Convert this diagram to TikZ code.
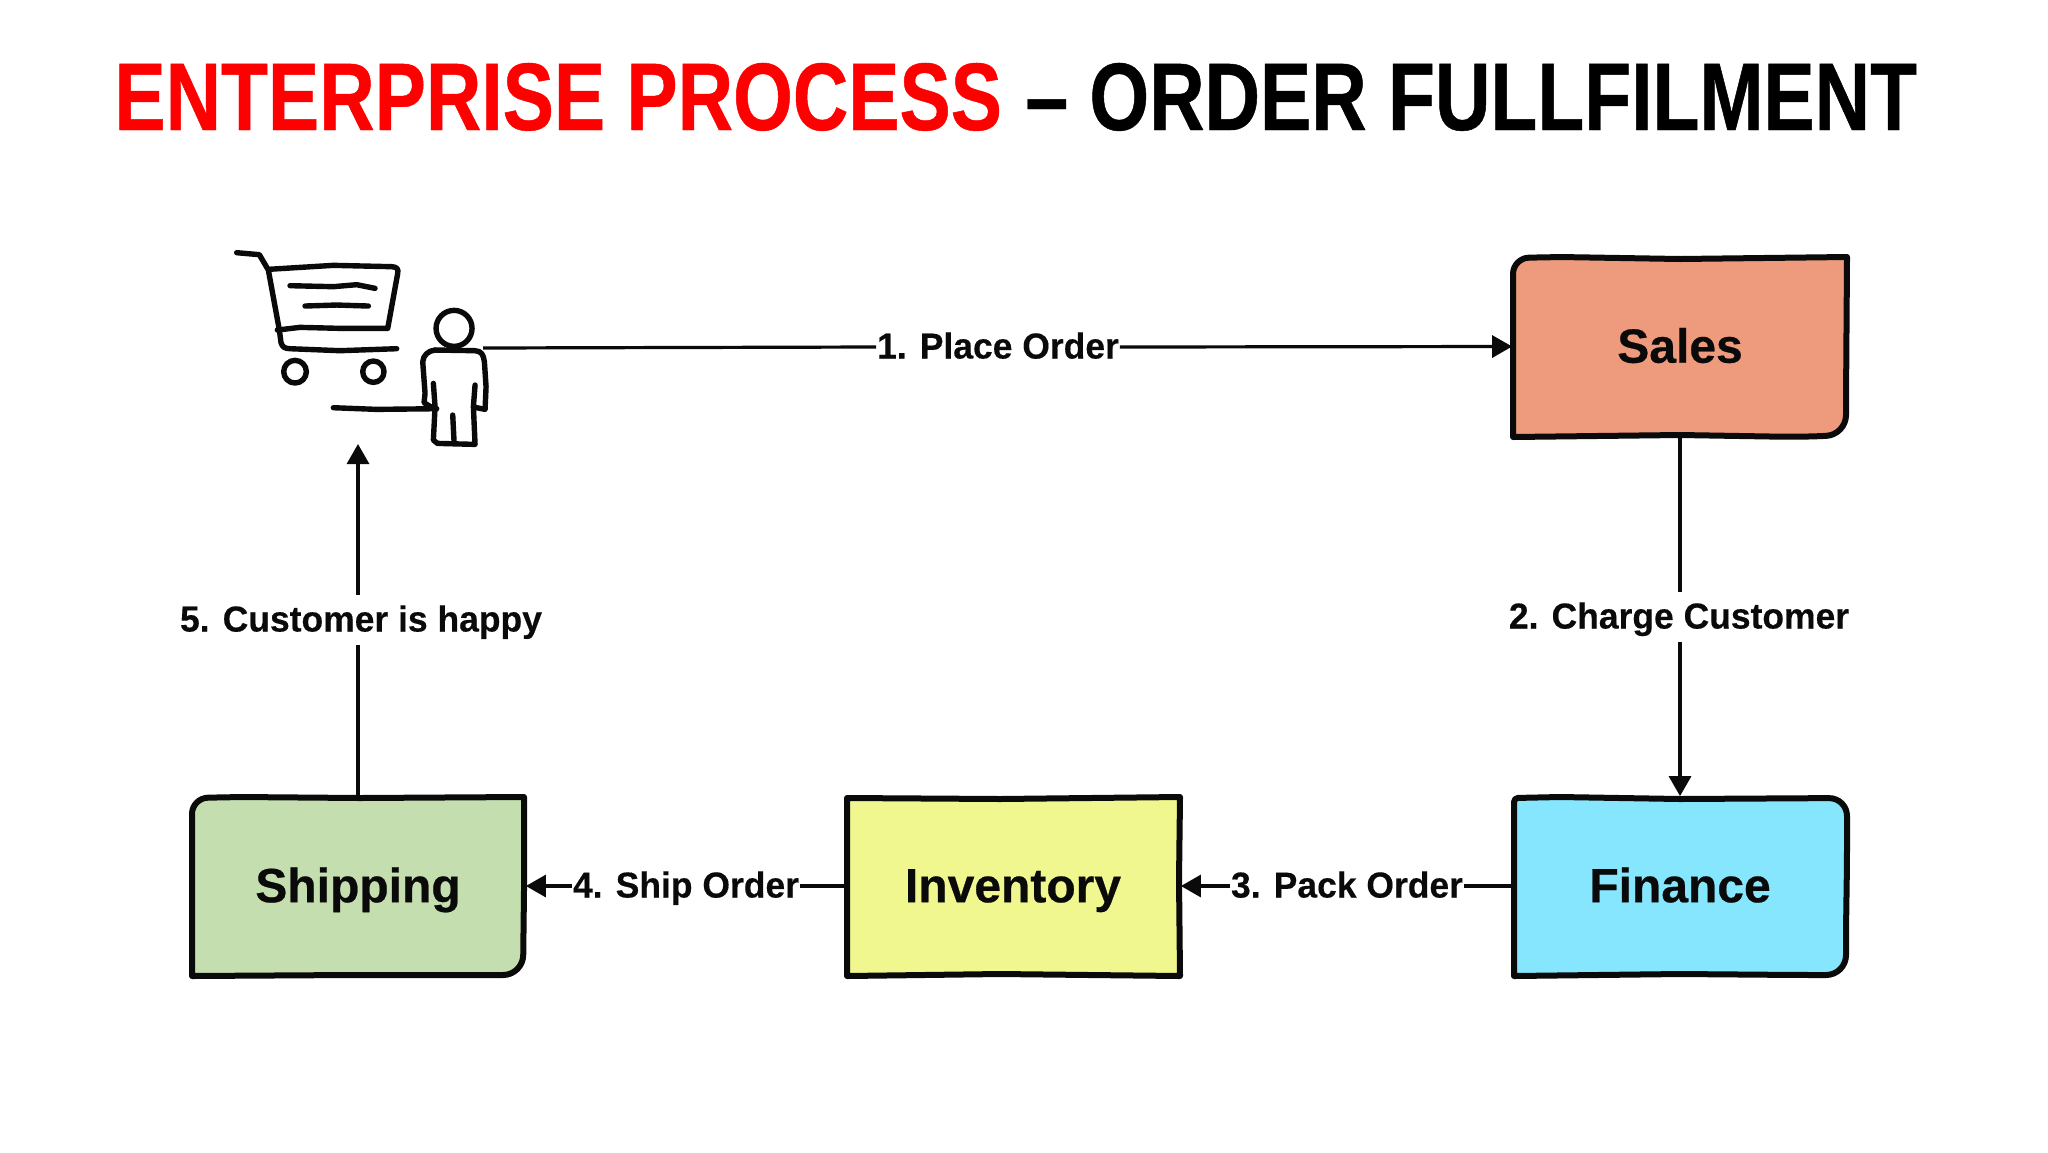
\documentclass[tikz,border=0pt]{standalone}
\usepackage{fontspec}
\setmainfont{Liberation Sans}
\newfontfamily\titlefont[FakeStretch=0.80,FakeBold=0.5]{Liberation Sans Bold}
\newfontfamily\boxfont[FakeBold=0.5]{Liberation Sans Bold}
\newfontfamily\labfont[FakeBold=0.35,FakeStretch=0.985]{Liberation Sans Bold}
\usetikzlibrary{arrows.meta}
\definecolor{salesc}{HTML}{EE9A7C}
\definecolor{shipc}{HTML}{C5DEB0}
\definecolor{invc}{HTML}{F1F78F}
\definecolor{finc}{HTML}{85E6FD}
\definecolor{ink}{HTML}{0A0A0A}
\tikzset{
  outline/.style={draw=ink,line width=3pt,line join=round,line cap=round},
  boxtext/.style={font=\boxfont\fontsize{24}{28}\selectfont,text=ink,text height=19pt,text depth=2.8pt,minimum width=167.5pt,minimum height=89.5pt,inner sep=0pt},
  conn/.style={draw=ink,line width=1.6pt},
  arrow/.style={conn,-{Triangle[length=10pt,width=11pt]}},
  lab/.style={font=\labfont\fontsize{18}{22}\selectfont,text=ink,text height=15pt,text depth=3.5pt,inner xsep=0.3pt},
  vlab/.style={lab,inner ysep=3pt},
  hlab/.style={lab,inner ysep=0pt},
  sketch/.style={draw=ink,line width=2.7pt,line cap=round,line join=round},
  ttl/.style={font=\titlefont\fontsize{48}{55}\selectfont,inner sep=0pt,anchor=base west}
}
\begin{document}
\begin{tikzpicture}[x=0.5pt,y=-0.5pt]
\useasboundingbox (0,0) rectangle (2048,1152);
\fill[white] (0,0) rectangle (2048,1152);
% title
\node[ttl,text=red] (t1) at (114,130) {ENTERPRISE PROCESS};
\node[ttl,text=black] (t2) at (1025,130) {– ORDER FULLFILMENT};
% box fills and outlines
\path[outline,fill=salesc] (1513,290) [rounded corners=8pt] -- (1513,258) -- (1560,257) [sharp corners] -- (1680,259) -- (1847,257) -- (1846,400) [rounded corners=10pt] -- (1846,435) -- (1800,437) [sharp corners] -- (1680,435) -- (1513,437) -- cycle;
\path[outline,fill=finc] (1514,830) [rounded corners=2pt] -- (1514,798) -- (1560,797) [sharp corners] -- (1680,799) [rounded corners=9pt] -- (1847,798) -- (1847,860) [sharp corners] -- (1846,930) [rounded corners=10pt] -- (1846,975) -- (1800,975) [sharp corners] -- (1680,974) -- (1514,976) -- cycle;
\path[outline,fill=invc] (847,798) -- (1000,799) -- (1180,797) -- (1179,880) -- (1180,976) -- (1000,974) -- (847,976) -- cycle;
\path[outline,fill=shipc] (192,840) [rounded corners=8pt] -- (192,798) -- (240,797) [sharp corners] -- (360,798) -- (524,797) -- (524,890) [rounded corners=10pt] -- (523,975) -- (470,975) [sharp corners] -- (350,975) -- (192,976) -- cycle;
% box texts
\node[boxtext] (sales) at (1680,346.5) {Sales};
\node[boxtext] (finance) at (1680,886) {Finance};
\node[boxtext] (inventory) at (1013,886) {Inventory};
\node[boxtext] (shipping) at (358,886) {Shipping};
% customer: cart
\begin{scope}[shift={(200,220)},x=0.1667pt,y=-0.1667pt]
\draw[sketch] (110,98) -- (178,104) -- (205,150) -- (238,330) -- (243,368) .. controls (248,383) and (255,385) .. (270,386) -- (420,392) -- (590,386);
\draw[sketch] (205,148) -- (400,136) -- (575,140) .. controls (590,141) and (596,146) .. (593,160) -- (563,325) -- (420,325) -- (300,322) -- (232,330);
\draw[sketch] (270,197) -- (400,200) -- (470,194) -- (525,205);
\draw[sketch] (315,258) -- (410,255) -- (505,258);
\draw[sketch] (285,455) circle [radius=34];
\draw[sketch] (520,455) circle [radius=32];
% person
\draw[sketch] (762,325) circle [radius=54];
\draw[sketch] (700,490) -- (705,560) -- (700,660) -- (712,670) -- (825,673) -- (820,560) -- (825,495);
\draw[sketch] (705,390) -- (825,392) .. controls (845,393) and (850,405) .. (853,425) -- (858,500) -- (855,568) -- (825,562);
\draw[sketch] (705,390) .. controls (685,392) and (670,405) .. (668,425) -- (675,520) -- (672,548) -- (700,565);
\draw[sketch] (758,585) -- (762,665);
\draw[sketch] (400,563) -- (530,568) -- (710,566);
\end{scope}
\coordinate (custR) at (483,348);
\coordinate (custB) at (358,444);
% labels
\node[hlab] (l1) at (998,347) {1. Place Order};
\node[vlab] (l2) at (1679,617) {2. Charge Customer};
\node[hlab] (l3) at (1347,886) {3. Pack Order};
\node[hlab] (l4) at (686,886) {4. Ship Order};
\node[vlab] (l5) at (361,620) {5. Customer is happy};
% connectors
\draw[conn] (custR) -- (l1.west);
\draw[arrow] (l1.east) -- (sales.west);
\draw[conn] (sales.south) -- (l2.north -| sales.south);
\draw[arrow] (l2.south -| finance.north) -- (finance.north);
\draw[conn] (finance.west) -- (l3.east);
\draw[arrow] (l3.west) -- (inventory.east);
\draw[conn] (inventory.west) -- (l4.east);
\draw[arrow] (l4.west) -- (shipping.east);
\draw[conn] (shipping.north) -- (l5.south -| shipping.north);
\draw[arrow] (l5.north -| custB) -- (custB);
\end{tikzpicture}
\end{document}
